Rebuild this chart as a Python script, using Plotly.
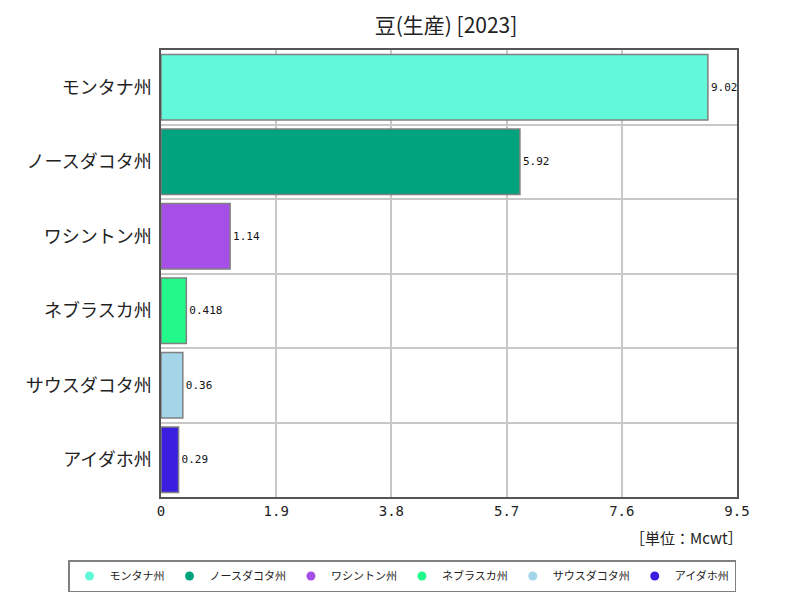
import plotly.graph_objects as go

categories = ["モンタナ州", "ノースダコタ州", "ワシントン州", "ネブラスカ州", "サウスダコタ州", "アイダホ州"]
values = [9.02, 5.92, 1.14, 0.418, 0.36, 0.29]
labels = ["9.02", "5.92", "1.14", "0.418", "0.36", "0.29"]
colors = ["#62F8DA", "#00A37E", "#A64FE8", "#22F98A", "#A4D4E8", "#3B1FE0"]
xticks = [0, 1.9, 3.8, 5.7, 7.6, 9.5]
xticklabels = ["0", "1.9", "3.8", "5.7", "7.6", "9.5"]

# page body has an 8px margin; figure coords = screen coords - 8
L, T, R, B = 153, 42, 71, 111
W, H = 800, 600
pw, ph = W - L - R, H - T - B

fig = go.Figure()
for c, v, t, col in zip(categories, values, labels, colors):
    fig.add_trace(go.Bar(
        x=[v], y=[c], orientation="h", name=c, showlegend=False,
        marker=dict(color=col, line=dict(color="#808080", width=1.5)),
        text=[t], textposition="outside", cliponaxis=True,
        textfont=dict(family="DejaVu Sans Mono", size=11, color="#111"),
        width=0.88,
    ))
for c, col in zip(categories, colors):
    fig.add_trace(go.Scatter(
        x=[None], y=[None], mode="markers", name=c,
        marker=dict(color=col, size=9, symbol="circle"),
        showlegend=True,
    ))

leg_left = 68 - 8
leg_top = 560 - 8
fig.update_layout(
    width=W, height=H,
    margin=dict(l=L, r=R, t=T, b=B, autoexpand=False),
    paper_bgcolor="white", plot_bgcolor="white",
    title=dict(text="豆(生産) [2023]", x=(446 - 8) / W, xanchor="center", y=1 - (26 - 8) / H, yanchor="middle",
               font=dict(family="Noto Sans CJK JP", size=21, color="#222")),
    barmode="overlay",
    showlegend=True,
    legend=dict(orientation="h", xref="paper", yref="paper",
                x=(leg_left - L) / pw, xanchor="left",
                y=-(leg_top - (T + ph)) / ph, yanchor="top",
                bordercolor="#808080", borderwidth=1.5,
                font=dict(family="Noto Sans CJK JP", size=11, color="#222"),
                itemwidth=30, traceorder="normal", tracegroupgap=0),
    font=dict(family="Noto Sans CJK JP"),
)
fig.update_xaxes(range=[0, 9.5], tickvals=xticks, ticktext=xticklabels,
                 showgrid=True, gridcolor="#C8C8C8", gridwidth=1.5,
                 showline=True, linecolor="#555", linewidth=1.5, mirror=True,
                 zeroline=False, ticks="", automargin=False,
                 tickfont=dict(family="DejaVu Sans Mono", size=14, color="#222"))
fig.update_yaxes(categoryorder="array", categoryarray=categories[::-1], type="category",
                 tickson="boundaries", showgrid=True, gridcolor="#C8C8C8", gridwidth=1.5,
                 showline=True, linecolor="#555", linewidth=1.5, mirror=True, ticks="",
                 automargin=False,
                 tickfont=dict(family="Noto Sans CJK JP", size=18, color="#222"),
                 ticklabelstandoff=4)

fig.add_annotation(text="［単位：Mcwt］", xref="paper", yref="paper", x=1, y=-(537 - 8 - (T + ph)) / ph,
                   xanchor="right", yanchor="middle", showarrow=False, xshift=8,
                   font=dict(family="Noto Sans CJK JP", size=15, color="#222"))

fig.write_html("out.html")
